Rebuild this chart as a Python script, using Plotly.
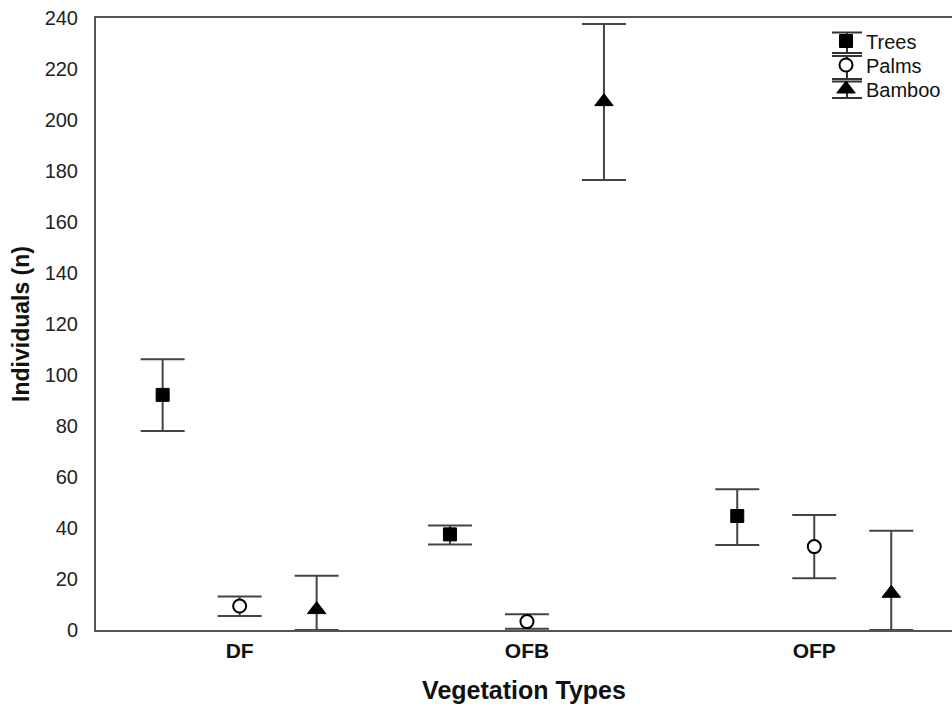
import numpy as np
import plotly.graph_objects as go

categories = ["DF", "OFB", "OFP"]
trees_mean = [92.2, 37.5, 44.7]
trees_upper = [106.2, 41.0, 55.2]
trees_lower = [78.0, 33.5, 33.3]
palms_mean = [9.4, 3.3, 32.7]
palms_upper = [13.1, 6.2, 45.1]
palms_lower = [5.5, 0.5, 20.3]
bamboo_mean = [8.0, 207.2, 14.4]
bamboo_upper = [21.3, 237.6, 38.9]
bamboo_lower = [0.0, 176.5, 0.0]
y_ticks = list(range(0, 241, 20))

FONT = "Arial, Liberation Sans, sans-serif"
W, H = 952, 707
ML, MR, MT, MB = 96, 0, 18, 77
PW, PH = W - ML - MR, H - MT - MB
base = np.arange(len(categories))


def px(xp):
    return (xp - ML) / PW


def py(yp):
    return (MT + PH - yp) / PH


series = [
    ("Trees", trees_mean, trees_upper, trees_lower, -0.268,
     dict(symbol="square", size=13, color="black", line=dict(color="black", width=1)), "legend", 41),
    ("Palms", palms_mean, palms_upper, palms_lower, 0.0,
     dict(symbol="circle", size=13, color="white", line=dict(color="black", width=2)), "legend2", 65),
    ("Bamboo", bamboo_mean, bamboo_upper, bamboo_lower, 0.268,
     dict(symbol="triangle-up", size=16, color="black", line=dict(color="black", width=1)), "legend3", 89),
]

fig = go.Figure()
legends = {}
for name, m, up, lo, off, mk, lg, ly in series:
    m = np.array(m); up = np.array(up); lo = np.array(lo)
    fig.add_trace(go.Scatter(
        x=base + off, y=m, mode="markers", name=name, marker=mk, legend=lg,
        error_y=dict(type="data", symmetric=False, array=up - m, arrayminus=m - lo,
                     color="#444444", thickness=2, width=22),
    ))
    legends[lg] = dict(x=px(826), y=py(ly), xanchor="left", yanchor="middle",
                       bgcolor="rgba(0,0,0,0)", borderwidth=0,
                       font=dict(family=FONT, size=20, color="#111111"),
                       itemsizing="trace")

# legend decoration: error-bar caps around legend symbols
legend_caps = [(32.5, 53.0), (56.0, 79.0), (81.5, 98.0)]
cap_x0, cap_x1, cap_xc = 832, 862, 847
shapes = []
for top, bot in legend_caps:
    for yy in (top, bot):
        shapes.append(dict(type="line", xref="paper", yref="paper",
                           x0=px(cap_x0), x1=px(cap_x1), y0=py(yy), y1=py(yy),
                           line=dict(color="#333333", width=2)))
    shapes.append(dict(type="line", xref="paper", yref="paper",
                       x0=px(cap_xc), x1=px(cap_xc), y0=py(top), y1=py(bot),
                       line=dict(color="#333333", width=2), layer="below"))

fig.update_layout(
    width=W, height=H,
    margin=dict(l=ML, r=MR, t=MT, b=MB),
    paper_bgcolor="white", plot_bgcolor="white",
    font=dict(family=FONT, size=20, color="#222222"),
    showlegend=True,
    shapes=shapes,
    xaxis=dict(range=[-0.5, -0.5 + PW / 287.3], tickvals=list(base), ticktext=categories,
               showgrid=False, zeroline=False, showline=True, linecolor="#555555",
               linewidth=2, mirror=True, ticks="", ticklabelstandoff=1,
               tickfont=dict(family=FONT, size=21, color="#111111", weight="bold"),
               title=dict(text="<b>Vegetation Types</b>", font=dict(family=FONT, size=25, color="#111111"),
                          standoff=20)),
    yaxis=dict(range=[0, 240], tickvals=y_ticks, showgrid=False, zeroline=False,
               showline=True, linecolor="#555555", linewidth=2, mirror=False, ticks="",
               ticklabelstandoff=12,
               tickfont=dict(family=FONT, size=20, color="#222222"),
               title=dict(text="<b>Individuals (n)</b>", font=dict(family=FONT, size=23, color="#111111"),
                          standoff=9)),
    **legends,
)

fig.write_html("out.html", config={"displayModeBar": False},
               post_script="document.body.style.margin='0';")
